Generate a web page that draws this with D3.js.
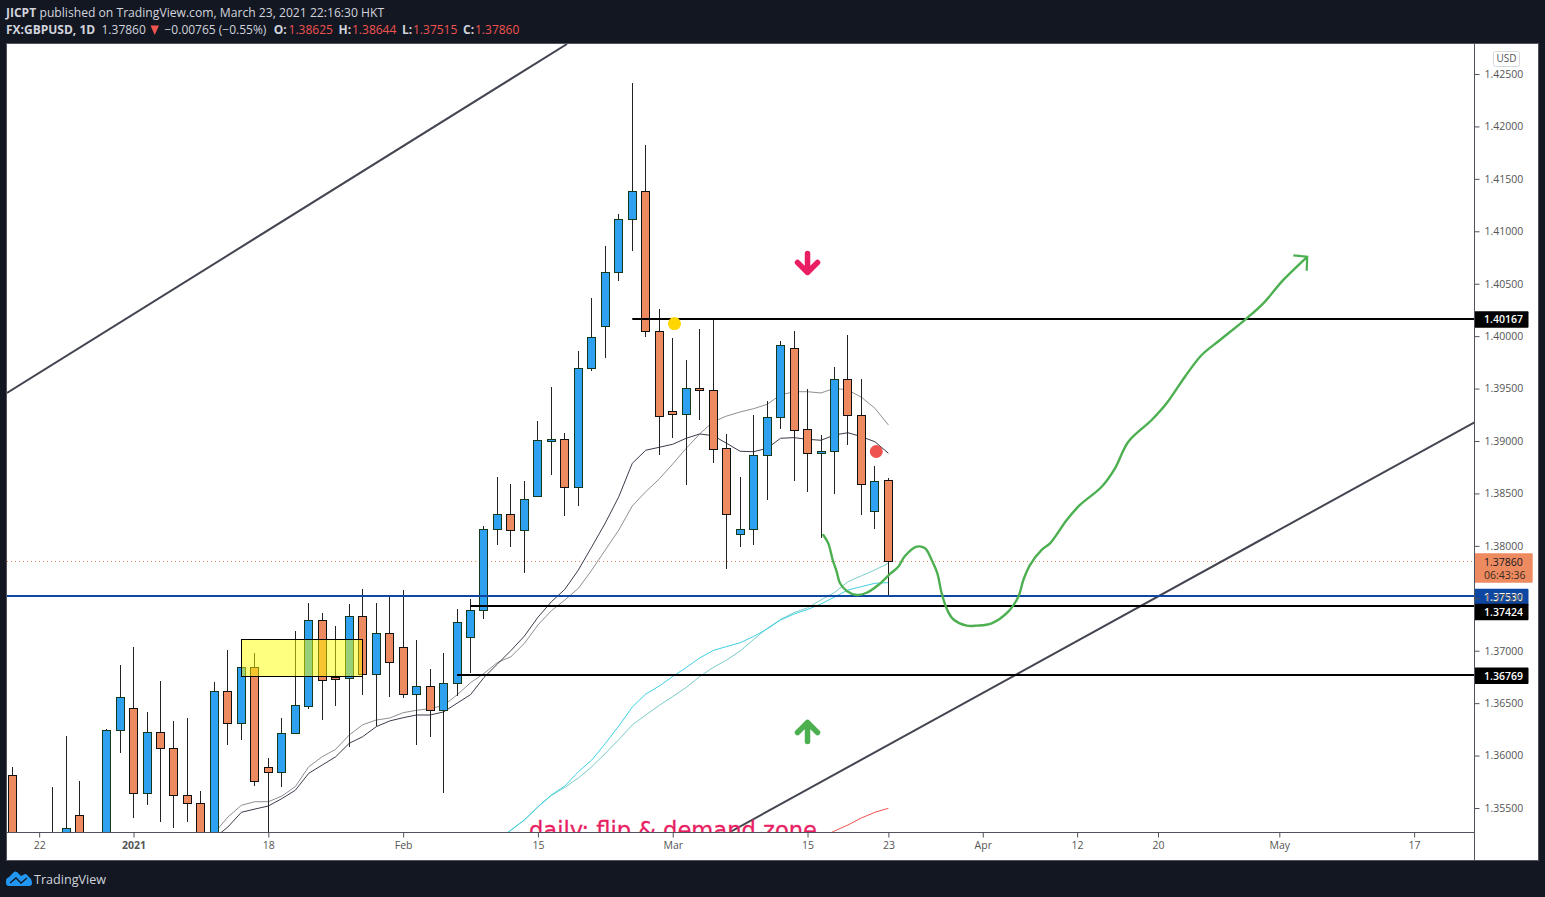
<!DOCTYPE html>
<html>
<head>
<meta charset="utf-8">
<script src="https://d3js.org/d3.v7.min.js"></script>
<style>
html,body{margin:0;padding:0;background:#131722;overflow:hidden}
svg{display:block}
text{font-family:"Open Sans",sans-serif}
</style>
</head>
<body>
<svg id="c" width="1545" height="897"></svg>
<script>
// ---- data (bar index 0 = first visible daily bar) ----
const opens = [1.3581,null,null,1.3515,1.3510,1.3543,null,1.3500,1.36241,1.36451,1.35640,1.36222,1.36069,1.35621,1.35545,1.3500,
1.36613,1.36308,1.36842,1.35888,1.35840,1.36212,1.36470,1.37290,1.36752,1.36737,1.37328,1.36775,1.37166,1.37033,1.36584,1.36661,
1.36432,1.36689,1.37128,1.37385,1.38158,1.38301,1.38148,1.38473,1.38997,1.39016,1.38559,1.39693,1.40100,1.40609,1.41114,1.41381,
1.40046,1.39283,1.39255,1.39503,1.39484,1.38930,1.38110,1.38158,1.38864,1.39226,1.39884,1.39112,1.38883,1.38902,1.39588,1.39245,1.38330,1.38625];
const highs = [1.3589,null,null,1.35700,1.36187,1.35757,null,1.36253,1.36864,1.37035,1.36416,1.36711,1.36330,1.36358,1.35662,1.36702,
1.37007,1.36842,1.36978,1.35977,1.36358,1.37188,1.37455,1.37360,1.37236,1.37446,1.37589,1.37455,1.37515,1.37579,1.37102,1.36826,
1.36978,1.37398,1.37493,1.38189,1.38657,1.38590,1.38619,1.39191,1.39515,1.39076,1.39858,1.40364,1.40860,1.41165,1.42414,1.41823,
1.40259,1.39982,1.39773,1.40068,1.40164,1.39067,1.38657,1.39248,1.39382,1.39954,1.40049,1.39496,1.39057,1.39706,1.40011,1.39591,1.38762,1.38644];
const lows = [1.3500,null,null,1.3500,1.3500,1.3505,null,1.3495,1.36027,1.35407,1.35531,1.35369,1.35312,1.35369,1.3495,1.3495,
1.36104,1.36151,1.35713,1.3500,1.35703,1.36212,1.36447,1.36342,1.36476,1.36085,1.36581,1.36285,1.36561,1.36552,1.36104,1.36180,
1.35646,1.36571,1.36790,1.37305,1.38011,1.37992,1.37744,1.38473,1.38679,1.38288,1.38383,1.39668,1.39792,1.40529,1.40812,1.39995,
1.38869,1.39032,1.38583,1.39203,1.38793,1.37776,1.37992,1.38011,1.38440,1.39117,1.38621,1.38517,1.38078,1.38497,1.38965,1.38297,1.38164,1.37515];
const closes = [1.3510,null,null,1.3510,1.35306,1.3515,null,1.36241,1.36556,1.35640,1.36222,1.36069,1.35621,1.35545,1.3500,1.36613,
1.36308,1.36842,1.35755,1.35840,1.36212,1.36479,1.37290,1.36718,1.36733,1.37328,1.36775,1.37166,1.36890,1.36584,1.36661,1.36432,
1.36689,1.37271,1.37385,1.38158,1.38301,1.38148,1.38444,1.39007,1.39016,1.38559,1.39696,1.39989,1.40609,1.41114,1.41381,1.40046,
1.39236,1.39255,1.39503,1.39484,1.38921,1.38301,1.38158,1.38864,1.39226,1.39913,1.39102,1.38883,1.38902,1.39588,1.39245,1.38587,1.38616,1.37860];

const maDarkStart = 15;
const maDark = [1.35214,1.35319,1.35459,1.35490,1.35519,1.35589,1.35669,1.35831,1.35910,1.35989,1.36117,1.36180,1.36275,1.36330,1.36361,1.36387,1.36387,1.36416,1.36499,1.36581,1.36745,1.36873,1.37002,1.37140,1.37319,1.37467,1.37586,1.37770,1.37992,1.38218,1.38469,1.38787,1.38912,1.38940,1.38969,1.39026,1.39067,1.39051,1.38978,1.38902,1.38898,1.38930,1.39026,1.39032,1.39016,1.39007,1.39057,1.39079,1.39041,1.38993,1.38883];
const maGrey = [1.35262,1.35414,1.35526,1.35560,1.35560,1.35614,1.35703,1.35894,1.35989,1.36060,1.36196,1.36294,1.36339,1.36358,1.36409,1.36432,1.36447,1.36479,1.36578,1.36695,1.36783,1.36888,1.36943,1.37071,1.37245,1.37382,1.37484,1.37595,1.37770,1.37961,1.38151,1.38380,1.38517,1.38638,1.38781,1.38930,1.39067,1.39184,1.39238,1.39277,1.39308,1.39350,1.39439,1.39470,1.39470,1.39458,1.39503,1.39486,1.39417,1.39312,1.39153];
const maTealStart = 36;
const maTeal = [1.35185,1.35290,1.35386,1.35512,1.35624,1.35710,1.35846,1.35958,1.36115,1.36282,1.36463,1.36587,1.36663,1.36754,1.36840,1.36931,1.37002,1.37040,1.37076,1.37136,1.37207,1.37293,1.37350,1.37393,1.37446,1.37512,1.37579,1.37611,1.37643,1.37649];
const maTealLight = [1.35185,1.35290,1.35386,1.35510,1.35619,1.35697,1.35786,1.35894,1.36020,1.36153,1.36292,1.36387,1.36478,1.36563,1.36649,1.36754,1.36840,1.36911,1.36997,1.37107,1.37212,1.37298,1.37364,1.37409,1.37484,1.37555,1.37658,1.37715,1.37770,1.37834];
const maRedStart = 60;
const maRed = [1.35214,1.35281,1.35338,1.35405,1.35459,1.35497];

const yTicks = d3.range(15).map(k => +(1.355 + k * 0.005).toFixed(3));
const timeTickBars = [2,9,19,29,39,49,59,65,72,79,85,94,104];
const timeTickLabels = ["22","2021","18","Feb","15","Mar","15","23","Apr","12","20","May","17"];

const lastPrice = 1.37860;
const levelPrices = [1.40167,1.37424,1.36769];
const levelStartBars = [46,34,33];
const bluePrice = 1.37530;
const trendUpper = [[-0.39,1.39458],[41.16,1.42786]];
const trendLower = [[53.25,1.35271],[108.52,1.39181]];
const zoneBars = [17,26];
const zonePrices = [1.37109,1.36752];
const greenCurve = [[60.17,1.38104],[60.54,1.38024],[60.87,1.37865],[61.16,1.37754],[61.41,1.37643],[61.91,1.37570],[62.65,1.37531],[63.39,1.37553],[64.25,1.37627],[65.12,1.37732],[65.73,1.37801],[66.23,1.37903],[67.10,1.37992],[67.72,1.37977],[68.21,1.37865],[68.63,1.37738],[68.95,1.37548],[69.37,1.37388],[69.81,1.37300],[70.81,1.37239],[71.55,1.37239],[72.66,1.37261],[73.89,1.37372],[74.64,1.37515],[75.01,1.37674],[75.50,1.37817],[76.37,1.37961],[76.99,1.38024],[78.23,1.38247],[79.21,1.38390],[80.82,1.38564],[81.81,1.38740],[82.80,1.38993],[84.53,1.39200],[85.64,1.39360],[87.00,1.39613],[88.24,1.39820],[89.60,1.39963],[91.58,1.40170],[92.81,1.40313],[94.30,1.40536],[96.03,1.40752]];
const greenHead = [[95.04,1.40771],[96.07,1.40758],[96.03,1.40624]];
const circleMarks = [{bar:49.13,price:1.40120,color:"#ffd600"},{bar:64.1,price:1.38900,color:"#ef5350"}];
const arrowMarks = [{bar:59,price:1.40698,dir:1,color:"#e91e63"},{bar:59,price:1.36225,dir:-1,color:"#4caf50"}];

// ---- layout ----
const W=1545,H=897, L=7, R=1474, T=44, B=832, FR=1538, FB=860;
const x = d3.scaleLinear().domain([0,65]).range([12.2,888.4]);
const y = d3.scaleLinear().domain([1.355,1.425]).range([808,74]);
const svg = d3.select("#c");
const line = d3.line().x(d=>x(d[0])).y(d=>y(d[1]));

// frame
svg.append("rect").attr("x",0).attr("y",0).attr("width",W).attr("height",H).attr("fill","#131722");
svg.append("rect").attr("x",L-0.5).attr("y",T-0.5).attr("width",FR-L+1).attr("height",FB-T+1).attr("fill","#fff").attr("stroke","#50535e");
svg.append("clipPath").attr("id","plot").append("rect").attr("x",L).attr("y",T).attr("width",R-L).attr("height",B-T);
const plot = svg.append("g").attr("clip-path","url(#plot)");

// last-price dotted line
plot.append("line").attr("x1",L).attr("x2",R).attr("y1",Math.round(y(lastPrice))+0.5).attr("y2",Math.round(y(lastPrice))+0.5)
  .attr("stroke","#ee8a5f").attr("stroke-width",1).attr("stroke-dasharray","1 3");

// moving averages
function ma(vals,start,color,w){
  plot.append("path").datum(vals.map((v,k)=>[start+k,v])).attr("d",line).attr("fill","none")
    .attr("stroke",color).attr("stroke-width",w||1).attr("stroke-linejoin","round");
}
ma(maGrey,maDarkStart,"#8f8f93");
ma(maDark,maDarkStart,"#3c3b4c");
ma(maTealLight,maTealStart,"#7accc8");
ma(maTeal,maTealStart,"#3fd0e4");
ma(maRed,maRedStart,"#ef5350");

// candles
const bars = opens.map((o,k)=>({k,o,h:highs[k],l:lows[k],c:closes[k]})).filter(d=>d.o!==null);
const g = plot.selectAll("g.bar").data(bars).enter().append("g").attr("class","bar");
g.append("line").attr("x1",d=>Math.floor(x(d.k))+0.5).attr("x2",d=>Math.floor(x(d.k))+0.5)
  .attr("y1",d=>Math.round(y(d.h))).attr("y2",d=>Math.round(y(d.l))).attr("stroke","#222").attr("stroke-width",1);
g.append("rect").attr("x",d=>Math.floor(x(d.k))-3.5).attr("width",8)
  .attr("y",d=>Math.round(y(Math.max(d.o,d.c)))+0.5)
  .attr("height",d=>Math.max(1,Math.round(y(Math.min(d.o,d.c)))-Math.round(y(Math.max(d.o,d.c)))))
  .attr("fill",d=>d.c>=d.o?"#2fa1f1":"#ee8a5f")
  .attr("stroke",d=>d.c>=d.o?"#17391b":"#111").attr("stroke-width",1);

// yellow zone
plot.append("rect").attr("x",Math.round(x(zoneBars[0]))+0.5).attr("width",Math.round(x(zoneBars[1])-x(zoneBars[0])))
  .attr("y",Math.round(y(zonePrices[0]))+0.5).attr("height",Math.round(y(zonePrices[1])-y(zonePrices[0])))
  .attr("fill","rgba(255,255,0,0.5)").attr("stroke","#000").attr("stroke-width",1);

// trend lines
[trendUpper,trendLower].forEach(t=>plot.append("path").datum(t).attr("d",line).attr("fill","none").attr("stroke","#434651").attr("stroke-width",2));

// horizontal levels
plot.append("line").attr("x1",L).attr("x2",R).attr("y1",Math.round(y(bluePrice))+1).attr("y2",Math.round(y(bluePrice))+1).attr("stroke","#0d47a1").attr("stroke-width",2);
levelPrices.forEach((p,k)=>plot.append("line").attr("x1",x(levelStartBars[k])).attr("x2",R).attr("y1",Math.round(y(p))).attr("y2",Math.round(y(p))).attr("stroke","#000").attr("stroke-width",2));

// hand-drawn green path
plot.append("path").datum(greenCurve).attr("d",line.curve(d3.curveCatmullRom)).attr("fill","none").attr("stroke","#4caf50").attr("stroke-width",2.4).attr("stroke-linecap","round");
line.curve(d3.curveLinear);
plot.append("path").datum(greenHead).attr("d",line).attr("fill","none").attr("stroke","#4caf50").attr("stroke-width",2.2);

// circles
plot.selectAll("circle.m").data(circleMarks).enter().append("circle").attr("class","m")
  .attr("cx",d=>x(d.bar)).attr("cy",d=>y(d.price)).attr("r",6.5).attr("fill",d=>d.color);

// block arrows
const ar = plot.selectAll("g.arrow").data(arrowMarks).enter().append("g").attr("class","arrow")
  .attr("transform",d=>`translate(${x(d.bar)},${y(d.price)}) scale(1,${d.dir})`)
  .attr("stroke",d=>d.color).attr("fill","none").attr("stroke-width",5.5).attr("stroke-linecap","round").attr("stroke-linejoin","round");
ar.append("path").attr("d","M0,-9.5 L0,9 M-10,-0.5 L0,9.5 L10,-0.5");

// text annotation (clipped by pane)
plot.append("text").attr("x",x(38.34)).attr("y",y(1.35265)+5).attr("fill","#e91e63").attr("stroke","#e91e63").attr("stroke-width",0.3)
  .style("font-family","DejaVu Sans").style("font-size","22.6px").text("daily: flip & demand zone");

// axes
const axisCol="#50535e", txtCol="#555";
const yAxis = svg.append("g").attr("transform",`translate(${R+0.5},0)`)
  .call(d3.axisRight(y).tickValues(yTicks).tickFormat(d3.format(".5f")).tickSize(5).tickPadding(5));
yAxis.select(".domain").attr("d",`M0,${T}V${FB}`).attr("stroke",axisCol);
yAxis.selectAll(".tick line").attr("stroke",axisCol);
yAxis.selectAll(".tick text").attr("fill",txtCol).style("font-size","10.5px").style("font-family",'"Open Sans",sans-serif');

const xAxis = svg.append("g").attr("transform",`translate(0,${B+0.5})`)
  .call(d3.axisBottom(x).tickValues(timeTickBars).tickFormat((d,k)=>timeTickLabels[k]).tickSize(5).tickPadding(4));
xAxis.select(".domain").attr("d",`M${L},0H${R}`).attr("stroke",axisCol);
xAxis.selectAll(".tick line").attr("stroke",axisCol);
xAxis.selectAll(".tick text").attr("fill",txtCol).style("font-size","10.5px").style("font-family",'"Open Sans",sans-serif')
  .style("font-weight",(d,k)=>timeTickLabels[k]==="2021"?"700":"400");

// price labels
function priceTag(p,fill,col,off,w){
  const cy=y(p)+off;
  svg.append("rect").attr("x",R).attr("y",cy-8).attr("width",w||54.5).attr("height",16.5).attr("rx",1).attr("fill",fill);
  svg.append("text").attr("x",R+10).attr("y",cy+4.2).attr("fill",col).style("font-size","10.5px").style("font-weight","600").text(p.toFixed(5));
}
const lastY=y(lastPrice);
svg.append("rect").attr("x",R).attr("y",lastY-7.3).attr("width",58.7).attr("height",29.4).attr("rx",1).attr("fill","#ee8a5f");
svg.append("text").attr("x",R+10).attr("y",lastY+5).attr("fill","#131722").style("font-size","10.5px").text(lastPrice.toFixed(5));
svg.append("text").attr("x",R+10).attr("y",lastY+18.5).attr("fill","#3a2a22").style("font-size","10.5px").text("06:43:36");
priceTag(bluePrice,"#0d47a1","#fff",1.5);
priceTag(levelPrices[1],"#000","#fff",5.5);
priceTag(levelPrices[2],"#000","#fff",0.5);
priceTag(levelPrices[0],"#000","#fff",0.5);
yAxis.raise();

// USD box
svg.append("rect").attr("x",1493.5).attr("y",51.5).attr("width",26).attr("height",15).attr("rx",2).attr("fill","#fff").attr("stroke","#d6d8de");
svg.append("text").attr("x",1506.5).attr("y",62).attr("text-anchor","middle").attr("fill","#555").style("font-size","10px").text("USD");

// header
const hdr = svg.append("g").style("font-size","12px");
function ht(x0,yy,s,col,wt,fs){const t=hdr.append("text").attr("x",x0).attr("y",yy).attr("fill",col).style("font-weight",wt||400).text(s); if(fs)t.style("font-size",fs);}
const hc="#d1d4dc", rd="#ef5350";
ht(6,17,"JICPT",hc,700);
ht(39.5,17,"published on TradingView.com, March 23, 2021 22:16:30 HKT",hc,400,"12.15px");
ht(6,34,"FX:GBPUSD, 1D",hc,700);
ht(101.5,34,"1.37860",hc);
hdr.append("path").attr("d","M150.5,25.5H159L154.7,35Z").attr("fill",rd);
ht(164.5,34,"−0.00765 (−0.55%)",hc);
ht(273.8,34,"O:",hc,700); ht(288.6,34,"1.38625",rd);
ht(338.5,34,"H:",hc,700); ht(352,34,"1.38644",rd);
ht(402,34,"L:",hc,700); ht(413,34,"1.37515",rd);
ht(463,34,"C:",hc,700); ht(475,34,"1.37860",rd);

// footer logo
svg.append("path").attr("d","M6,881 Q6,878 9,877 L14,872 Q15,871 17,872 L21,876 L25,874 Q27,874 28,876 L31,879 Q32,881 32,883 Q32,886 29,886 L9,886 Q6,886 6,883 Z").attr("fill","#2196f3");
svg.append("path").attr("d","M10,883 L16,878 L21,883 L27,878").attr("fill","none").attr("stroke","#131722").attr("stroke-width",1.3);
svg.append("text").attr("x",34).attr("y",884).attr("fill","#d1d4dc").style("font-size","12.6px").text("TradingView");
</script>
</body>
</html>
